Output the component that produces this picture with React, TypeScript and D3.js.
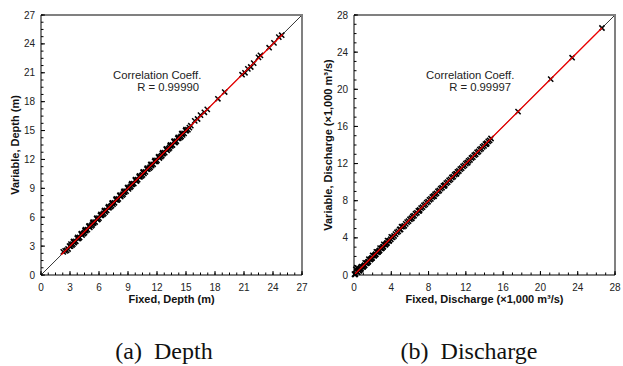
import React from "react";
import * as d3 from "d3";

// ---- Data: (a) Depth ----
const depthFixed = [
  2.3, 2.5, 2.8, 3.1, 3.3, 3.4, 3.6, 3.8, 4.0, 4.2, 4.4, 4.6, 4.8, 5.0, 5.2, 5.4, 5.6, 5.8, 6.0, 6.2,
  6.4, 6.6, 6.8, 7.0, 7.2, 7.4, 7.6, 7.8, 8.0, 8.2, 8.4, 8.6, 8.8, 9.0, 9.2, 9.4, 9.6, 9.8, 10.0, 10.2,
  10.4, 10.6, 10.8, 11.0, 11.2, 11.4, 11.6, 11.8, 12.0, 12.2, 12.4, 12.6, 12.8, 13.0, 13.2, 13.4, 13.6,
  13.8, 14.0, 14.2, 14.4, 14.6, 14.8, 15.0, 15.2, 15.5, 15.9, 16.2, 16.5, 16.9, 17.2, 18.3, 19.0, 20.8,
  21.1, 21.4, 21.7, 22.0, 22.5, 22.7, 23.6, 24.1, 24.6, 24.9,
  3.2, 3.9, 4.5, 5.3, 5.9, 6.5, 7.3, 7.9, 8.5, 9.3, 9.9, 10.5, 11.3, 11.9, 12.5, 13.3, 13.9, 14.5,
  2.65, 3.05, 3.45, 3.85, 4.25, 4.65, 5.05, 5.45, 5.85, 6.25, 6.65, 7.05, 7.45, 7.85, 8.25, 8.65, 9.05,
  9.45, 9.85, 10.25, 10.65, 11.05, 11.45, 11.85, 12.25, 12.65, 13.05, 13.45, 13.85, 14.25, 14.65, 15.05,
  15.35,
  2.95, 3.35, 3.75, 4.15, 4.55, 4.95, 5.35, 5.75, 6.15, 6.55, 6.95, 7.35, 7.75, 8.15, 8.55, 8.95, 9.35,
  9.75, 10.15, 10.55, 10.95, 11.35, 11.75, 12.15, 12.55, 12.95, 13.35, 13.75, 14.15, 14.55, 14.95,
];
const depthVariable = [
  2.4, 2.5, 2.7, 3.2, 3.2, 3.5, 3.5, 3.9, 3.9, 4.3, 4.3, 4.7, 4.7, 5.1, 5.1, 5.5, 5.5, 5.9, 5.9, 6.3,
  6.3, 6.7, 6.7, 7.1, 7.1, 7.5, 7.5, 7.9, 7.9, 8.3, 8.3, 8.7, 8.7, 9.1, 9.1, 9.5, 9.5, 9.9, 9.9, 10.3,
  10.3, 10.7, 10.7, 11.1, 11.1, 11.5, 11.5, 11.9, 11.9, 12.3, 12.3, 12.7, 12.7, 13.1, 13.1, 13.5, 13.5,
  13.9, 13.9, 14.3, 14.3, 14.7, 14.7, 15.1, 15.1, 15.5, 16.0, 16.2, 16.6, 16.9, 17.2, 18.3, 19.0, 20.8,
  21.0, 21.4, 21.6, 22.0, 22.6, 22.8, 23.6, 24.1, 24.7, 24.9,
  3.1, 3.8, 4.4, 5.2, 5.8, 6.4, 7.2, 7.8, 8.4, 9.2, 9.8, 10.4, 11.2, 11.8, 12.4, 13.2, 13.8, 14.4,
  2.55, 3.0, 3.35, 3.8, 4.15, 4.6, 4.95, 5.4, 5.75, 6.2, 6.55, 7.0, 7.35, 7.8, 8.15, 8.6, 8.95,
  9.4, 9.75, 10.2, 10.55, 11.0, 11.35, 11.8, 12.15, 12.6, 12.95, 13.4, 13.75, 14.2, 14.55, 15.0,
  15.3,
  3.0, 3.45, 3.8, 4.25, 4.6, 5.05, 5.4, 5.85, 6.2, 6.65, 7.0, 7.45, 7.8, 8.25, 8.6, 9.05, 9.4,
  9.85, 10.2, 10.65, 11.0, 11.45, 11.8, 12.25, 12.6, 13.05, 13.4, 13.85, 14.2, 14.65, 15.0,
];
const depthFit = [2.1, 25.0];
const depthTicks = [0, 3, 6, 9, 12, 15, 18, 21, 24, 27];
const depthR = "R = 0.99990";

// ---- Data: (b) Discharge ----
const qFixed = [
  0.05, 0.1, 0.2, 0.3, 0.4, 0.5, 0.6, 0.8, 1.0, 1.2, 1.4, 1.6, 1.8, 2.0, 2.2, 2.4, 2.6, 2.8, 3.0, 3.2,
  3.4, 3.6, 3.8, 4.0, 4.3, 4.6, 4.9, 5.1, 5.4, 5.7, 6.0, 6.3, 6.6, 6.9, 7.2, 7.5, 7.8, 8.1, 8.4, 8.7,
  9.0, 9.3, 9.6, 9.9, 10.2, 10.5, 10.8, 11.1, 11.4, 11.7, 12.0, 12.3, 12.6, 12.9, 13.2, 13.5, 13.8,
  14.1, 14.4, 14.7, 17.6, 21.1, 23.4, 26.6,
  0.7, 1.1, 1.5, 1.9, 2.3, 2.7, 3.1, 3.5, 5.0, 6.2, 7.0, 8.6, 9.7, 11.0, 12.2, 14.2,
  0.15, 0.35, 0.55, 0.75, 0.95, 1.15, 1.35, 1.55, 1.75, 1.95, 2.15, 2.35, 2.55, 2.75, 2.95, 3.15, 3.35,
  3.55, 3.75, 3.95, 4.15, 4.45, 4.75, 5.25, 5.55, 5.85, 6.15, 6.45, 6.75, 7.05, 7.35, 7.65, 7.95, 8.25,
  8.55, 8.85, 9.15, 9.45, 9.75, 10.05, 10.35, 10.65, 10.95, 11.25, 11.55, 11.85, 12.15, 12.45, 12.75,
  13.05, 13.35, 13.65, 13.95, 14.25, 14.55,
];
const qVariable = [
  0.1, 0.05, 0.6, 0.8, 0.3, 0.6, 0.5, 0.9, 0.9, 1.3, 1.3, 1.7, 1.7, 2.1, 2.1, 2.5, 2.5, 2.9, 2.9, 3.3,
  3.3, 3.7, 3.7, 4.1, 4.2, 4.6, 4.9, 5.2, 5.3, 5.7, 6.0, 6.3, 6.6, 6.9, 7.2, 7.5, 7.8, 8.1, 8.4, 8.7,
  9.0, 9.3, 9.6, 9.9, 10.2, 10.5, 10.8, 11.1, 11.4, 11.7, 12.0, 12.3, 12.6, 12.9, 13.2, 13.5, 13.8,
  14.1, 14.4, 14.7, 17.6, 21.1, 23.4, 26.6,
  0.6, 1.0, 1.4, 1.8, 2.2, 2.6, 3.0, 3.4, 4.9, 6.1, 6.9, 8.5, 9.6, 10.9, 12.1, 14.1,
  0.1, 0.3, 0.45, 0.7, 0.85, 1.05, 1.25, 1.45, 1.65, 1.85, 2.05, 2.25, 2.45, 2.65, 2.85, 3.05, 3.25,
  3.45, 3.65, 3.85, 4.05, 4.4, 4.7, 5.2, 5.5, 5.8, 6.1, 6.4, 6.7, 7.0, 7.3, 7.6, 7.9, 8.2,
  8.5, 8.8, 9.1, 9.4, 9.7, 10.0, 10.3, 10.6, 10.9, 11.2, 11.5, 11.8, 12.1, 12.4, 12.7,
  13.0, 13.3, 13.6, 13.9, 14.2, 14.5,
];
const qFit = [0.0, 26.6];
const qTicks = [0, 4, 8, 12, 16, 20, 24, 28];
const qR = "R = 0.99997";

const FONT = "Liberation Sans, Arial, Helvetica, sans-serif";

type PanelProps = {
  x0: number;
  x1: number;
  y0: number;
  y1: number;
  max: number;
  ticks: number[];
  minorStep: number;
  fixed: number[];
  variable: number[];
  fit: number[];
  xTitle: string;
  yTitle: string;
  yTitleX: number;
  r: string;
  annX: number;
  annRX: number;
};

function Panel(p: PanelProps) {
  const x = d3.scaleLinear().domain([0, p.max]).range([p.x0, p.x1]);
  const y = d3.scaleLinear().domain([0, p.max]).range([p.y0, p.y1]);
  const minors = d3.range(0, p.max + 1e-6, p.minorStep);
  const cx = (p.x0 + p.x1) / 2;
  const cy = (p.y0 + p.y1) / 2;
  const m = 2.6;
  const line = d3.line<number>().x((d) => x(d)).y((d) => y(d));
  return (
    <g>
      <path d={line([0, p.max]) || ""} stroke="#000" strokeWidth={0.8} fill="none" />
      {p.fixed.map((f, i) => {
        const px = x(f);
        const py = y(p.variable[i]);
        return (
          <path
            key={i}
            d={`M${px - m},${py - m}L${px + m},${py + m}M${px - m},${py + m}L${px + m},${py - m}`}
            stroke="#000"
            strokeWidth={1.5}
          />
        );
      })}
      <path d={line(p.fit) || ""} stroke="#f00000" strokeWidth={1.3} fill="none" />
      <path
        d={`M${p.x0},${p.y1}H${p.x1}V${p.y0}`}
        stroke="#808080"
        strokeWidth={2}
        fill="none"
      />
      <path d={`M${p.x0},${p.y1}V${p.y0}H${p.x1}`} stroke="#000" strokeWidth={1} fill="none" />
      {minors.map((v, i) => (
        <g key={"m" + i}>
          <line x1={x(v)} x2={x(v)} y1={p.y0} y2={p.y0 - 2.5} stroke="#000" strokeWidth={1} />
          <line x1={p.x0} x2={p.x0 + 2.5} y1={y(v)} y2={y(v)} stroke="#000" strokeWidth={1} />
        </g>
      ))}
      {p.ticks.map((v, i) => (
        <g key={"t" + i}>
          <line x1={x(v)} x2={x(v)} y1={p.y0} y2={p.y0 - 4} stroke="#000" strokeWidth={1} />
          <line x1={p.x0} x2={p.x0 + 4} y1={y(v)} y2={y(v)} stroke="#000" strokeWidth={1} />
          <text x={x(v)} y={p.y0 + 16} textAnchor="middle" fontFamily={FONT} fontSize={10} fill="#222">
            {v}
          </text>
          <text x={p.x0 - 6} y={y(v) + 3.5} textAnchor="end" fontFamily={FONT} fontSize={10} fill="#222">
            {v}
          </text>
        </g>
      ))}
      <text
        x={cx}
        y={p.y0 + 28}
        textAnchor="middle"
        fontFamily={FONT}
        fontSize={11}
        fontWeight="bold"
        fill="#111"
      >
        {p.xTitle}
      </text>
      <text
        transform={`translate(${p.yTitleX},${cy}) rotate(-90)`}
        textAnchor="middle"
        fontFamily={FONT}
        fontSize={11}
        fontWeight="bold"
        fill="#111"
      >
        {p.yTitle}
      </text>
      <text x={p.annX} y={79} fontFamily={FONT} fontSize={11.3} fill="#222">
        Correlation Coeff.
      </text>
      <text x={p.annRX} y={91} textAnchor="end" fontFamily={FONT} fontSize={11.3} fill="#222">
        {p.r}
      </text>
    </g>
  );
}

export default function App() {
  return (
    <svg width={623} height={366} style={{ position: "absolute", left: 0, top: 0, background: "#fff" }}>
      <rect width={623} height={366} fill="#fff" />
      <Panel
        x0={41}
        x1={302}
        y0={275}
        y1={15}
        max={27}
        ticks={depthTicks}
        minorStep={0.75}
        fixed={depthFixed}
        variable={depthVariable}
        fit={depthFit}
        xTitle="Fixed, Depth (m)"
        yTitle="Variable, Depth (m)"
        yTitleX={19}
        r={depthR}
        annX={113}
        annRX={199}
      />
      <Panel
        x0={354}
        x1={615}
        y0={275}
        y1={15}
        max={28}
        ticks={qTicks}
        minorStep={1}
        fixed={qFixed}
        variable={qVariable}
        fit={qFit}
        xTitle="Fixed, Discharge (×1,000 m³/s)"
        yTitle="Variable, Discharge (×1,000 m³/s)"
        yTitleX={332}
        r={qR}
        annX={426}
        annRX={511}
      />
      <text
        x={164}
        y={359}
        textAnchor="middle"
        fontFamily="Liberation Serif, Times New Roman, serif"
        fontSize={24}
        fill="#111"
        style={{ whiteSpace: "pre" }}
      >
        {"(a)  Depth"}
      </text>
      <text
        x={469}
        y={359}
        textAnchor="middle"
        fontFamily="Liberation Serif, Times New Roman, serif"
        fontSize={24}
        fill="#111"
        style={{ whiteSpace: "pre" }}
      >
        {"(b)  Discharge"}
      </text>
    </svg>
  );
}
